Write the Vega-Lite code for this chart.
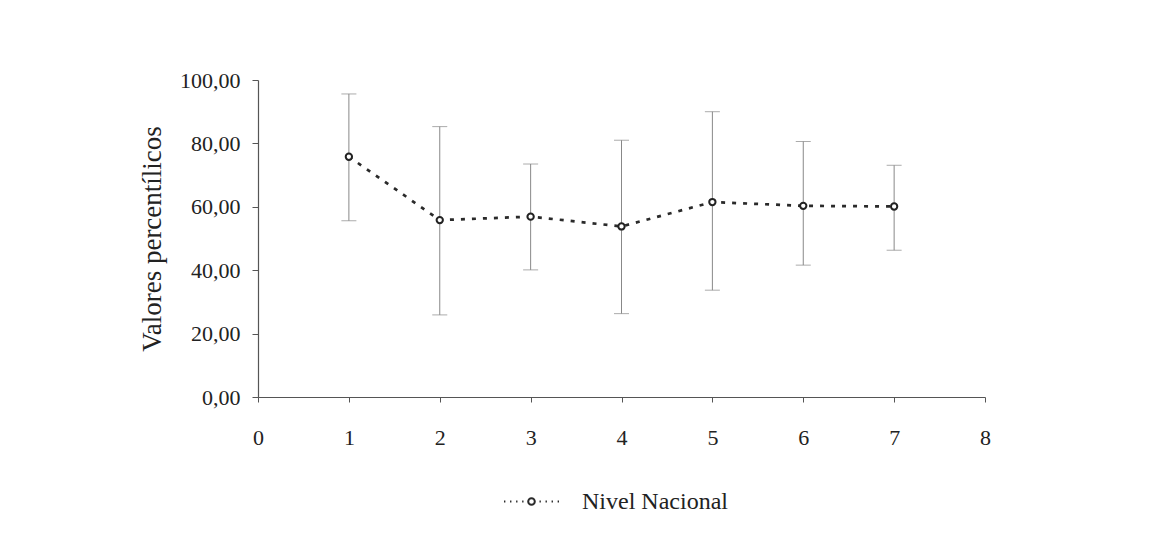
{
  "$schema": "https://vega.github.io/schema/vega-lite/v6.json",
  "autosize": {"type": "none"},
  "padding": {"left": 258, "top": 80, "right": 189, "bottom": 149},
  "width": 727,
  "height": 317,
  "background": "white",
  "config": {
    "view": {"stroke": null},
    "font": "Liberation Serif",
    "axis": {"grid": false, "domainColor": "#555", "tickColor": "#555", "labelColor": "#222", "titleColor": "#222", "labelFont": "Liberation Serif", "titleFont": "Liberation Serif", "titleFontWeight": "normal"}
  },
  "data": {
    "values": [
      {"x": 1, "mean": 75.8, "lo": 55.6, "hi": 95.6, "serie": "Nivel Nacional"},
      {"x": 2, "mean": 55.8, "lo": 25.9, "hi": 85.3, "serie": "Nivel Nacional"},
      {"x": 3, "mean": 56.9, "lo": 40.1, "hi": 73.5, "serie": "Nivel Nacional"},
      {"x": 4, "mean": 53.8, "lo": 26.3, "hi": 81.0, "serie": "Nivel Nacional"},
      {"x": 5, "mean": 61.5, "lo": 33.7, "hi": 90.0, "serie": "Nivel Nacional"},
      {"x": 6, "mean": 60.3, "lo": 41.6, "hi": 80.6, "serie": "Nivel Nacional"},
      {"x": 7, "mean": 60.1, "lo": 46.3, "hi": 73.1, "serie": "Nivel Nacional"}
    ]
  },
  "encoding": {
    "x": {"field": "x", "type": "quantitative", "scale": {"domain": [0, 8], "nice": false},
      "axis": {"title": null, "values": [0,1,2,3,4,5,6,7,8], "format": "d", "labelFontSize": 22, "tickSize": 5, "labelPadding": 25, "labelFlush": false, "labelBound": false, "domainWidth": 1.2}}
  },
  "layer": [
    {
      "mark": {"type": "rule", "color": "#888", "strokeWidth": 1},
      "encoding": {
        "y": {"field": "lo", "type": "quantitative", "scale": {"domain": [0, 100], "nice": false},
          "axis": {"title": "Valores percentílicos", "values": [0,20,40,60,80,100], "labelExpr": "replace(format(datum.value, '.2f'), '.', ',')", "labelFontSize": 22, "titleFontSize": 27, "tickSize": 6, "labelPadding": 12, "titlePadding": 13, "domainWidth": 1.2}},
        "y2": {"field": "hi"}
      }
    },
    {
      "mark": {"type": "tick", "orient": "horizontal", "color": "#888", "size": 15, "thickness": 1},
      "encoding": {"y": {"field": "lo", "type": "quantitative"}}
    },
    {
      "mark": {"type": "tick", "orient": "horizontal", "color": "#888", "size": 15, "thickness": 1},
      "encoding": {"y": {"field": "hi", "type": "quantitative"}}
    },
    {
      "mark": {"type": "line", "strokeDash": [4, 7], "strokeWidth": 2.7, "strokeCap": "butt"},
      "encoding": {
        "y": {"field": "mean", "type": "quantitative"},
        "color": {"field": "serie", "type": "nominal", "scale": {"range": ["#2a2a2a"]},
          "legend": {"title": null, "orient": "none", "legendX": 245, "legendY": 393,
            "symbolType": "M-1,0h0.05M-0.78,0h0.05M-0.56,0h0.05M-0.34,0h0.05M0.12,0A0.12,0.12 0 1,1 -0.12,0A0.12,0.12 0 1,1 0.12,0M0.29,0h0.05M0.51,0h0.05M0.73,0h0.05M0.95,0h0.05",
            "symbolSize": 3025, "symbolStrokeWidth": 2, "symbolFillColor": "white", "symbolStrokeColor": "#333",
            "labelFontSize": 24, "labelFont": "Liberation Serif", "labelColor": "#222", "labelOffset": 22}}
      }
    },
    {
      "mark": {"type": "point", "shape": "circle", "filled": true, "fill": "white", "stroke": "#222", "strokeWidth": 2, "size": 40, "opacity": 1},
      "encoding": {"y": {"field": "mean", "type": "quantitative"}}
    }
  ]
}
